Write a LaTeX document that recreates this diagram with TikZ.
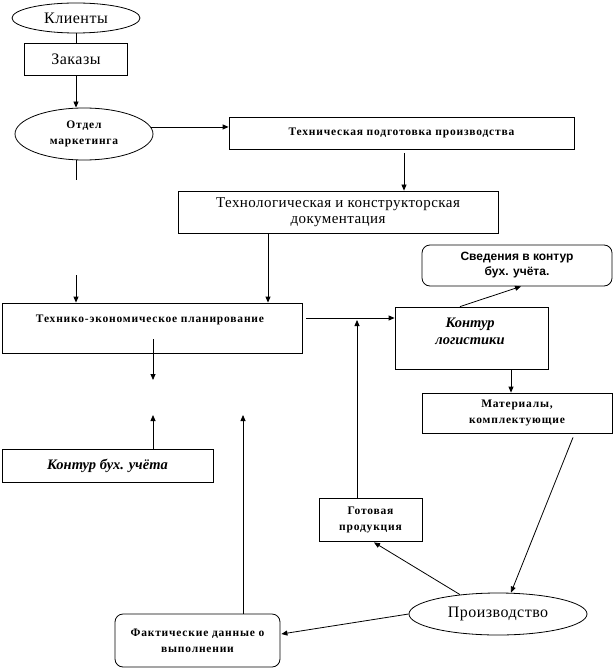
\documentclass[tikz,border=0pt]{standalone}
\usepackage{fontspec}
\setmainfont{Liberation Serif}
\newfontfamily\arialf{Liberation Sans}
\newfontfamily\spbf[LetterSpace=7]{Liberation Serif Bold}
\newfontfamily\spreg[LetterSpace=3]{Liberation Serif}
\usetikzlibrary{shapes.geometric,arrows.meta,calc}
\tikzset{
  every path/.style={line width=0.8pt},
  arr/.style={-{Triangle[length=6pt,width=5pt]}},
  box/.style={draw,rectangle,inner sep=0pt,align=center},
  rbox/.style={draw,rectangle,rounded corners=8pt,inner sep=0pt,align=center},
  oval/.style={draw,ellipse,inner sep=0pt,align=center},
  small/.style={font=\spbf\fontsize{11.5}{16}\selectfont},
  big/.style={font=\spreg\fontsize{16}{18}\selectfont},
  itb/.style={font=\fontsize{14.5}{17}\selectfont\bfseries\itshape},
}
\begin{document}
\begin{tikzpicture}[x=1pt,y=-1pt]
\useasboundingbox (0,0) rectangle (613,668);
% nodes
\node[oval,big,minimum width=128,minimum height=30] (kl) at (76,18) {Клиенты};
\node[box,big,minimum width=103,minimum height=32] (zak) at (76,59) {Заказы};
\node[oval,small,minimum width=138,minimum height=52] (otd) at (84,134) {Отдел\\маркетинга};
\node[box,small,minimum width=345,minimum height=32] (tpp) at (401.5,133) {Техническая подготовка производства};
\node[box,font=\spreg\fontsize{15}{16}\selectfont,minimum width=320,minimum height=42] (tkd) at (338,212) {Технологическая и конструкторская\\документация};
\node[box,minimum width=300,minimum height=50] (tep) at (152,328) {};
\node[small] (tepT) at (150,320) {Технико-экономическое планирование};
\node[box,itb,minimum width=211,minimum height=33] (kbu) at (107.5,465.5) {Контур бух. учёта};
\node[box,minimum width=153,minimum height=62] (klg) at (471.5,338) {};
\node[itb,align=center] (klgT) at (470,331.5) {Контур\\логистики};
\node[rbox,font=\arialf\fontsize{12}{15}\selectfont\bfseries,minimum width=190,minimum height=41] (sved) at (517,265.5) {Сведения в контур\\бух. учёта.};
\node[box,small,minimum width=190,minimum height=40] (mat) at (517,413) {Материалы,\\комплектующие};
\node[box,small,minimum width=103,minimum height=43] (got) at (370.5,519.5) {Готовая\\продукция};
\node[oval,font=\spreg\fontsize{16}{18}\selectfont,minimum width=178,minimum height=42] (pro) at (498,614) {Производство};
\node[rbox,small,minimum width=165,minimum height=53] (fakt) at (197.5,640.5) {Фактические данные о\\выполнении};
% free ends
\coordinate (d1) at (76,180);
\coordinate (d2) at (76,275);
\coordinate (d3) at (153,339);
\coordinate (d4) at (153,380);
\coordinate (d5) at (153,415);
\coordinate (d6) at (243,415);
\coordinate (d7) at (306,318);
\coordinate (d8) at (357,320);
% connectors
\draw (kl.south) -- (zak.north);
\draw[arr] (zak.south) -- (zak.south |- otd.north);
\draw[arr] (otd.6) -- (otd.6 -| tpp.west);
\draw[arr] ($(tpp.south)+(2.5,4)$) coordinate (c1) -- (c1 |- tkd.north);
\draw[arr] ($(tkd.south)+(-70,0)$) coordinate (c2) -- (c2 |- tep.north);
\draw (d1 |- otd.south) -- (d1);
\draw[arr] (d2) -- (d2 |- tep.north);
\draw[arr] (d3) -- (d4);
\draw[arr] (d5 |- kbu.north) -- (d5);
\draw[arr] (d6 |- fakt.north) -- (d6);
\draw[arr] (d7) -- (d7 -| klg.west);
\draw[arr] (d8 |- got.north) -- (d8);
\draw[arr] ($(klg.north)+(-11.5,0)$) -- ($(sved.south)+(4,0)$);
\draw[arr] ($(klg.south)+(39.5,0)$) coordinate (c3) -- (c3 |- mat.north);
\draw[arr] ($(mat.south)+(56,4)$) -- ($(pro.north)+(13,0)$);
\draw[arr] ($(pro.north)+(-38,2)$) -- ($(got.south)+(3.5,1)$);
\draw[arr] (pro.west) -- ($(fakt.east)+(1,-6.5)$);
\end{tikzpicture}
\end{document}
